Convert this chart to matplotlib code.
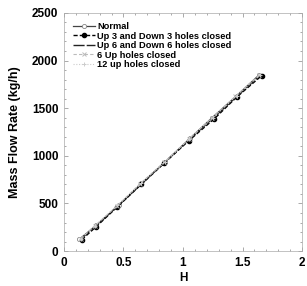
import numpy as np
import matplotlib
matplotlib.use("Agg")
import matplotlib.pyplot as plt
from matplotlib.ticker import MultipleLocator, FormatStrFormatter

plt.rcParams['font.family'] = ['Liberation Sans', 'DejaVu Sans']
plt.rcParams['font.weight'] = 'bold'

# data
h_normal = [0.13, 0.27, 0.46, 0.65, 0.85, 1.06, 1.24, 1.45, 1.64]
m_normal = [125, 270, 480, 710, 935, 1185, 1395, 1630, 1850]
h_ud3 = [0.15, 0.27, 0.45, 0.65, 0.84, 1.05, 1.26, 1.45, 1.66]
m_ud3 = [120, 255, 465, 700, 920, 1160, 1385, 1615, 1840]
h_ud6 = [0.14, 0.27, 0.45, 0.65, 0.84, 1.05, 1.25, 1.45, 1.65]
m_ud6 = [125, 262, 472, 702, 925, 1168, 1392, 1620, 1845]
h_up6 = [0.14, 0.26, 0.45, 0.64, 0.84, 1.05, 1.24, 1.44, 1.64]
m_up6 = [128, 265, 478, 708, 930, 1175, 1395, 1625, 1848]
h_up12 = [0.14, 0.26, 0.45, 0.65, 0.85, 1.05, 1.25, 1.45, 1.65]
m_up12 = [130, 268, 480, 712, 935, 1180, 1400, 1630, 1852]

labels = ['Normal', 'Up 3 and Down 3 holes closed', 'Up 6 and Down 6 holes closed',
          '6 Up holes closed', '12 up holes closed']

fig = plt.figure(figsize=[3.07, 2.86], dpi=100)
ax = fig.add_axes([0.208, 0.122, 0.776, 0.833])

ax.plot(h_normal, m_normal, color='#444444', linewidth=0.9, marker='o', markersize=3,
        markerfacecolor='white', markeredgecolor='#888888', markeredgewidth=0.6, label=labels[0])
ax.plot(h_ud3, m_ud3, color='black', linewidth=1.0, linestyle=(0, (3, 1.5)), marker='o',
        markersize=3, markerfacecolor='black', label=labels[1])
ax.plot(h_ud6, m_ud6, color='#222222', linewidth=1.0, linestyle=(0, (8, 1.5)), label=labels[2])
ax.plot(h_up6, m_up6, color='#bbbbbb', linewidth=0.8, linestyle=(0, (3, 2)), marker='x',
        markersize=3, markeredgewidth=0.7, label=labels[3])
ax.plot(h_up12, m_up12, color='#cccccc', linewidth=0.8, linestyle=(0, (1, 1.5)), marker='+',
        markersize=3.5, markeredgewidth=0.7, label=labels[4])

ax.set_xlim(0, 2)
ax.set_ylim(0, 2500)
ax.xaxis.set_major_locator(MultipleLocator(0.5))
ax.xaxis.set_minor_locator(MultipleLocator(0.1))
ax.xaxis.set_major_formatter(FormatStrFormatter('%g'))
ax.yaxis.set_major_locator(MultipleLocator(500))
ax.yaxis.set_minor_locator(MultipleLocator(100))
ax.tick_params(which='both', direction='in', top=True, right=True, labelsize=8.5, width=0.5, color='#888888')
ax.tick_params(which='major', length=3, pad=4)
ax.tick_params(which='minor', length=1.5)
for s in ax.spines.values():
    s.set_linewidth(0.5)
    s.set_color('#aaaaaa')

ax.set_xlabel('H', fontsize=8.5, fontweight='bold', labelpad=2.5)
ax.set_ylabel('Mass Flow Rate (kg/h)', fontsize=9, fontweight='bold', labelpad=8)

leg = ax.legend(loc='upper left', frameon=False, fontsize=6.7, handlelength=2.3,
                handletextpad=0.3, labelspacing=0.05, borderaxespad=0.6)

fig.savefig('out.png', dpi=100)
